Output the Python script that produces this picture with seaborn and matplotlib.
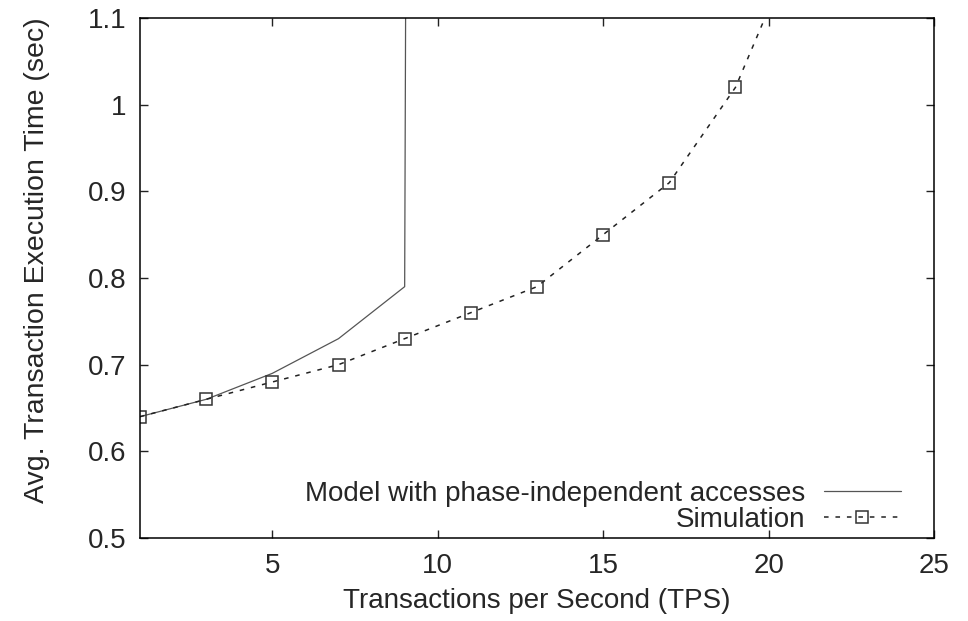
import matplotlib
matplotlib.use("Agg")
import matplotlib.pyplot as plt
from matplotlib.lines import Line2D
from matplotlib.ticker import FormatStrFormatter
import seaborn as sns
import pandas as pd

# data
model_tps = [1, 3, 5, 7, 9, 9.2]
model_time = [0.64, 0.66, 0.69, 0.73, 0.79, 3.0]
sim_tps = [1, 3, 5, 7, 9, 11, 13, 15, 17, 19, 21]
sim_time = [0.64, 0.66, 0.68, 0.70, 0.73, 0.76, 0.79, 0.85, 0.91, 1.02, 1.20]
y_ticks = [0.5, 0.6, 0.7, 0.8, 0.9, 1.0, 1.1]
x_ticks = [5, 10, 15, 20, 25]

model_df = pd.DataFrame({"tps": model_tps, "time": model_time})
sim_df = pd.DataFrame({"tps": sim_tps, "time": sim_time})

sns.set_style("ticks")
plt.rcParams["font.family"] = ["Liberation Sans", "DejaVu Sans"]
fs = 20

fig = plt.figure(figsize=(9.68, 6.21), dpi=100)
ax = fig.add_axes([140 / 968, 83 / 621, 794 / 968, 520 / 621])

sns.lineplot(data=model_df, x="tps", y="time", ax=ax, color="#555555",
             linewidth=0.9, estimator=None, sort=False)
sns.lineplot(data=sim_df, x="tps", y="time", ax=ax, color="#222222",
             linewidth=1.1, dashes=False, estimator=None, sort=False,
             marker="s", markersize=9, markerfacecolor="none",
             markeredgecolor="#333333", markeredgewidth=1.1)
ax.lines[1].set_dashes((3, 4.5))

ax.set_xlim(1, 25)
ax.set_ylim(0.5, 1.1)
ax.set_xticks(x_ticks)
ax.set_yticks(y_ticks)
ax.yaxis.set_major_formatter(FormatStrFormatter("%g"))
ax.tick_params(direction="in", length=6, width=1, top=True, right=True,
               labelsize=fs, color="#222222")
ax.tick_params(axis="x", pad=11)
ax.tick_params(axis="y", pad=10)
for s in ax.spines.values():
    s.set_visible(True)
    s.set_linewidth(1.1)
    s.set_color("black")

ax.set_xlabel("Transactions per Second (TPS)", fontsize=fs, labelpad=6)
ax.set_ylabel("Avg. Transaction Execution Time (sec)", fontsize=20.5)
ax.yaxis.set_label_coords(-0.113, 0.535)

handles = [
    Line2D([], [], color="#555555", linewidth=0.9),
    Line2D([], [], color="#222222", linewidth=1.1, dashes=(3, 4.5),
           marker="s", markersize=9, markerfacecolor="none",
           markeredgecolor="#333333", markeredgewidth=1.1),
]
ax.legend(handles, ["Model with phase-independent accesses", "Simulation"],
          loc="lower right", bbox_to_anchor=(0.958, 0.01), markerfirst=False,
          frameon=False, fontsize=fs, handlelength=2.77, handletextpad=0.68,
          labelspacing=0.0, borderpad=0, borderaxespad=0)

fig.savefig("out.png", dpi=100)
